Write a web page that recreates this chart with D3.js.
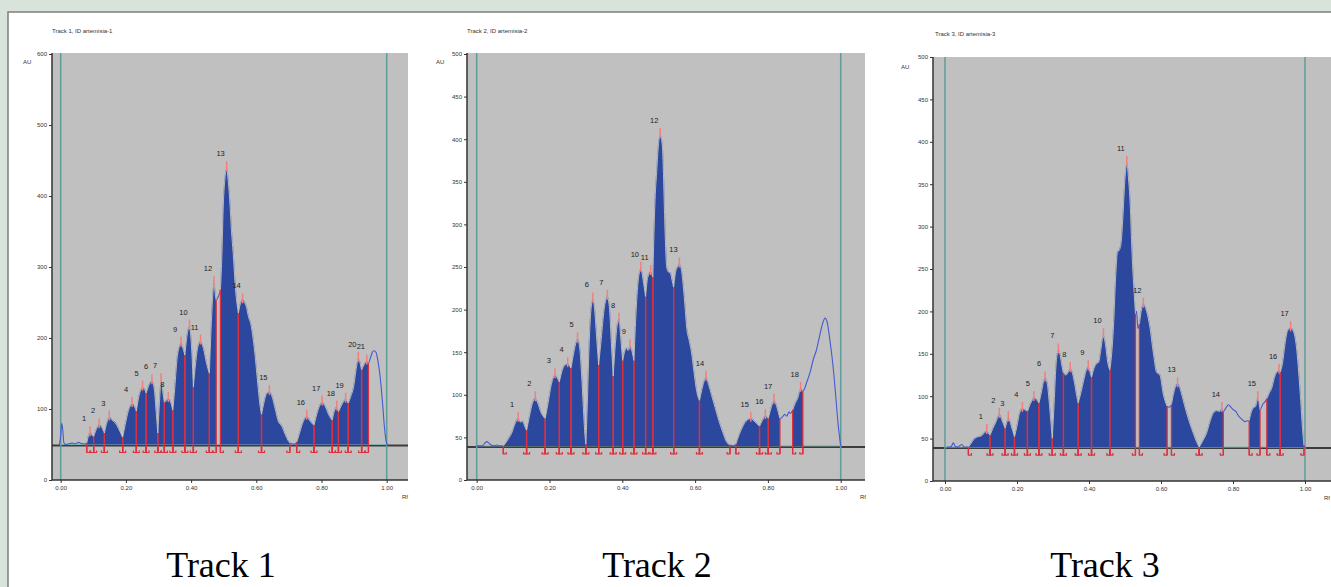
<!DOCTYPE html>
<html>
<head>
<meta charset="utf-8">
<script src="https://cdn.jsdelivr.net/npm/d3@7"></script>
<style>
  body { margin: 0; background: #d7e3db; }
  svg { display: block; }
</style>
</head>
<body>
<svg id="chart" width="1331" height="587"></svg>
<script>
// ---- data ----
const xTicks = [0, 0.2, 0.4, 0.6, 0.8, 1.0];
const yTicks1 = [0, 100, 200, 300, 400, 500, 600];
const yTicks23 = [0, 50, 100, 150, 200, 250, 300, 350, 400, 450, 500];
const trackTitles = ['Track 1, ID artemisia-1', 'Track 2, ID artemisia-2', 'Track 3, ID artemisia-3'];
const trackCaptions = ['Track 1', 'Track 2', 'Track 3'];
const baselines = [50, 40, 40];
const yMax = [600, 500, 500];

// [Rf, AU]
const track1Curve = [
  [-0.004,50],[0.000,62],[0.003,80],[0.006,72],[0.010,52],[0.015,50],[0.025,51],[0.035,52],[0.045,51],[0.055,53],[0.065,51],[0.075,51],[0.080,52],
  [0.085,62],[0.090,66],[0.096,63],[0.101,61],
  [0.108,70],[0.118,77],[0.126,74],[0.134,66],
  [0.140,78],[0.149,88],[0.158,84],[0.168,80],[0.178,72],[0.190,60],
  [0.198,78],[0.208,98],[0.219,107],[0.226,104],[0.232,97],
  [0.240,118],[0.251,130],[0.257,128],[0.262,122],
  [0.270,133],[0.280,139],[0.287,128],[0.293,95],[0.298,66],
  [0.303,110],[0.308,141],[0.313,125],[0.318,109],
  [0.324,112],[0.330,114],[0.337,110],[0.344,98],
  [0.350,130],[0.358,175],[0.369,192],[0.376,184],[0.381,176],
  [0.388,205],[0.395,216],[0.401,190],[0.407,131],
  [0.414,165],[0.421,188],[0.429,195],[0.438,185],[0.447,165],[0.456,150],
  [0.463,230],[0.470,277],[0.474,262],[0.477,253],
  [0.483,258],[0.490,268],
  [0.494,310],[0.499,390],[0.504,425],[0.509,439],[0.514,420],[0.519,390],[0.524,350],[0.529,320],[0.536,270],[0.545,235],
  [0.551,248],[0.558,253],[0.564,250],[0.570,243],[0.576,230],[0.583,220],[0.590,200],[0.597,172],[0.604,138],[0.610,110],[0.616,92],
  [0.623,108],[0.632,122],[0.640,124],[0.648,118],[0.658,100],[0.668,82],[0.678,76],[0.688,65],[0.697,56],[0.703,52],
  [0.710,51],[0.716,50.5],[0.724,53],
  [0.732,65],[0.742,80],[0.755,89],[0.765,83],[0.772,79],[0.777,77],
  [0.783,88],[0.792,102],[0.802,109],[0.812,103],[0.822,92],[0.833,84],
  [0.838,95],[0.847,102],[0.852,96],
  [0.860,104],[0.874,113],[0.882,108],
  [0.890,118],[0.898,130],[0.906,155],[0.913,171],[0.918,165],[0.923,155],
  [0.930,162],[0.939,167],[0.944,165],
  [0.950,172],[0.956,180],[0.961,182],[0.967,180],[0.973,168],[0.980,145],[0.987,110],[0.993,75],[0.998,55],[1.002,49]
];
const track1Start = [0.080,0.101,0.134,0.190,0.232,0.262,0.298,0.318,0.344,0.381,0.407,0.456,0.490,0.545,0.616,0.724,0.777,0.833,0.852,0.882,0.923];
const track1Max   = [0.090,0.118,0.149,0.219,0.251,0.280,0.308,0.330,0.369,0.395,0.429,0.470,0.509,0.558,0.640,0.755,0.802,0.847,0.874,0.913,0.939];
const track1End   = [0.101,0.134,0.190,0.232,0.262,0.298,0.318,0.344,0.381,0.407,0.456,0.477,0.545,0.616,0.703,0.777,0.833,0.852,0.882,0.923,0.944];

const track2Curve = [
  [0.000,40],[0.015,40],[0.022,43],[0.028,45],[0.034,43],[0.040,41],[0.048,40],[0.055,41],[0.062,40],[0.073,40],
  [0.085,47],[0.097,56],[0.106,67],[0.114,72],[0.120,68],[0.126,69],[0.132,63],[0.137,58],
  [0.145,75],[0.153,90],[0.161,96],[0.168,90],[0.176,80],[0.188,72],
  [0.196,90],[0.205,112],[0.215,123],[0.221,120],[0.227,115],
  [0.236,130],[0.243,135],[0.250,136],[0.259,131],
  [0.266,148],[0.272,160],[0.277,165],[0.283,155],[0.288,125],[0.293,85],[0.297,55],[0.300,42],
  [0.304,90],[0.309,160],[0.314,200],[0.319,212],[0.324,200],[0.329,170],[0.335,135],
  [0.342,165],[0.350,200],[0.359,215],[0.365,200],[0.370,160],[0.375,122],
  [0.381,160],[0.386,182],[0.391,188],[0.396,165],[0.401,140],
  [0.406,150],[0.412,155],[0.416,152],[0.421,157],[0.426,152],[0.432,140],
  [0.437,190],[0.444,235],[0.451,248],[0.457,235],[0.464,215],
  [0.470,238],[0.478,244],[0.484,238],
  [0.487,290],[0.490,329],[0.495,365],[0.499,392],[0.504,405],[0.510,392],[0.513,360],[0.515,329],[0.518,285],[0.522,250],[0.527,244],[0.532,243],[0.536,236],[0.541,226],
  [0.547,245],[0.552,250],[0.557,253],[0.563,245],[0.568,225],[0.572,205],[0.577,178],[0.583,165],[0.590,150],[0.596,130],[0.604,105],[0.612,93],
  [0.618,105],[0.624,115],[0.630,120],[0.637,112],[0.645,100],[0.655,85],[0.665,70],[0.676,56],[0.686,45],[0.696,41],
  [0.704,40],[0.712,42],
  [0.720,52],[0.730,62],[0.740,69],[0.753,72],[0.765,68],[0.777,63],
  [0.785,70],[0.793,75],[0.801,72],
  [0.809,85],[0.817,93],[0.825,85],[0.833,72],
  [0.840,74],[0.846,77],[0.852,75],[0.858,80],[0.862,78],[0.868,82],
  [0.875,90],[0.882,96],[0.890,107],[0.896,104],
  [0.907,115],[0.917,128],[0.925,142],[0.933,152],[0.940,165],[0.948,180],[0.957,190],[0.963,185],[0.970,165],[0.976,145],[0.981,125],[0.987,95],[0.993,65],[1.000,40]
];
const track2Start = [0.073,0.137,0.188,0.227,0.259,0.300,0.335,0.375,0.401,0.432,0.464,0.484,0.541,0.612,0.712,0.777,0.801,0.868];
const track2Max   = [0.114,0.161,0.215,0.250,0.277,0.319,0.359,0.391,0.421,0.451,0.478,0.504,0.557,0.630,0.753,0.793,0.817,0.890];
const track2End   = [0.137,0.188,0.227,0.259,0.300,0.335,0.375,0.401,0.432,0.464,0.484,0.541,0.612,0.696,0.777,0.801,0.833,0.896];

const track3Curve = [
  [0.005,40],[0.012,40],[0.018,41],[0.023,45],[0.028,41],[0.036,40],[0.042,42],[0.047,43],[0.053,40],[0.060,40],[0.065,40],
  [0.072,44],[0.080,49],[0.090,52],[0.100,53],[0.108,56],[0.116,59],[0.121,56],[0.125,54],
  [0.133,62],[0.142,70],[0.151,78],[0.158,72],[0.167,62],
  [0.171,68],[0.176,74],[0.184,65],[0.193,52],
  [0.200,65],[0.207,80],[0.215,85],[0.222,84],[0.229,82],
  [0.236,90],[0.242,95],[0.247,98],[0.254,96],[0.261,92],
  [0.268,105],[0.273,116],[0.278,121],[0.284,115],[0.289,95],[0.294,70],[0.298,50],
  [0.303,90],[0.309,140],[0.315,154],[0.320,148],[0.325,135],[0.329,127],
  [0.336,125],[0.342,128],[0.348,132],[0.354,127],[0.360,115],[0.366,100],[0.370,92],
  [0.378,105],[0.386,120],[0.392,130],[0.398,134],[0.403,128],[0.407,122],
  [0.414,133],[0.420,138],[0.427,140],[0.433,155],[0.440,172],[0.446,160],[0.452,140],[0.458,131],
  [0.463,150],[0.468,182],[0.474,240],[0.479,270],[0.484,272],[0.489,280],[0.494,310],[0.499,350],[0.505,375],[0.510,355],[0.514,330],[0.518,285],[0.521,255],[0.525,225],[0.529,197],
  [0.532,200],[0.536,180],[0.540,185],
  [0.545,200],[0.551,208],[0.560,200],[0.569,182],[0.579,150],[0.588,128],[0.597,125],[0.606,103],[0.617,88],
  [0.623,87],[0.629,90],
  [0.636,105],[0.641,112],[0.646,114],[0.652,110],[0.660,98],[0.670,82],[0.680,68],[0.690,56],[0.698,47],[0.706,40],
  [0.717,48],[0.727,57],[0.736,70],[0.745,80],[0.755,83],[0.762,82],[0.769,85],[0.773,82],
  [0.780,86],[0.787,90],[0.794,87],[0.801,84],[0.808,82],[0.815,77],[0.824,73],[0.833,70],[0.840,71],[0.845,71],
  [0.850,80],[0.856,86],[0.863,88],[0.869,98],[0.875,84],
  [0.882,90],[0.888,93],[0.894,97],
  [0.900,103],[0.908,110],[0.915,122],[0.921,128],[0.928,130],[0.931,128],
  [0.938,140],[0.944,160],[0.950,175],[0.955,179],[0.960,180],[0.966,178],[0.972,170],[0.977,155],[0.983,125],[0.988,95],[0.993,62],[0.997,42],[1.000,40]
];
const track3Start = [0.065,0.125,0.167,0.193,0.229,0.261,0.298,0.329,0.370,0.407,0.458,0.540,0.629,0.706,0.845,0.894,0.931];
const track3Max   = [0.116,0.151,0.176,0.215,0.247,0.278,0.315,0.348,0.398,0.440,0.505,0.551,0.646,0.769,0.869,0.928,0.960];
const track3End   = [0.125,0.167,0.193,0.229,0.261,0.298,0.329,0.370,0.407,0.458,0.529,0.617,0.706,0.773,0.875,0.931,0.997];

// ---- drawing ----
class Densitogram {

    constructor(svg, cfg) {
        this.svg = svg;
        this.cfg = cfg;
    }

    auAt(r) {
        const c = this.cfg.curve;
        const i = d3.bisector(d => d[0]).left(c, r);
        if (i <= 0) return c[0][1];
        if (i >= c.length) return c[c.length - 1][1];
        const a = c[i - 1], b = c[i];
        if (b[0] === r) return b[1];
        return a[1] + (b[1] - a[1]) * (r - a[0]) / (b[0] - a[0]);
    }

    createChart() {
        const c = this.cfg;
        const g = this.svg.append('g');

        this.x = d3.scaleLinear().domain([0, 1]).range([c.rf0, c.rf1]);
        this.y = d3.scaleLinear().domain([0, c.yMax]).range([c.bottom, c.yTop]);
        const x = this.x, y = this.y;
        const yb = y(c.base);

        g.append('rect')
            .attr('x', c.left).attr('y', c.top)
            .attr('width', c.right - c.left).attr('height', c.bottom - c.top)
            .attr('fill', '#c0c0c0');

        // baselines
        g.append('line')
            .attr('x1', c.left).attr('x2', c.right)
            .attr('y1', yb + 1).attr('y2', yb + 1)
            .attr('stroke', '#3c3c3c').attr('stroke-width', 2);
        g.append('line')
            .attr('x1', x(0)).attr('x2', x(1))
            .attr('y1', yb).attr('y2', yb)
            .attr('stroke', '#7fb3ae').attr('stroke-width', 1);

        // start / front lines
        g.selectAll('.front').data([0, 1]).join('line')
            .attr('x1', d => x(d)).attr('x2', d => x(d))
            .attr('y1', c.top).attr('y2', c.bottom)
            .attr('stroke', '#5e9d9b').attr('stroke-width', 1.5);

        const line = d3.line().x(d => x(d[0])).y(d => y(d[1])).curve(d3.curveMonotoneX);
        const area = d3.area().x(d => x(d[0])).y0(yb).y1(d => y(d[1])).curve(d3.curveMonotoneX);

        g.append('path')
            .attr('d', line(c.curve))
            .attr('fill', 'none').attr('stroke', '#4758d2').attr('stroke-width', 1.1);

        const segs = c.start.map((s, i) => {
            const e = c.end[i];
            const pts = c.curve.filter(p => p[0] > s + 1e-6 && p[0] < e - 1e-6);
            return [[s, this.auAt(s)], ...pts, [e, this.auAt(e)]];
        });

        g.selectAll('.peak').data(segs).join('path')
            .attr('d', area)
            .attr('fill', '#2c479e');
        g.selectAll('.edge').data(segs).join('path')
            .attr('d', line)
            .attr('fill', 'none').attr('stroke', '#d9d6b6').attr('stroke-width', 0.8);

        // integration boundaries
        const bounds = c.start.map(s => ({r: s, side: 1})).concat(c.end.map(e => ({r: e, side: -1})));
        g.selectAll('.bound').data(bounds).join('line')
            .attr('x1', d => x(d.r)).attr('x2', d => x(d.r))
            .attr('y1', yb + 8).attr('y2', d => y(this.auAt(d.r)))
            .attr('stroke', '#dd2f3d').attr('stroke-width', 1.3);
        g.selectAll('.bracket').data(bounds).join('path')
            .attr('d', d => {
                const bx = x(d.r);
                return `M${bx},${yb + 2}V${yb + 8}H${bx + 3 * d.side}V${yb + 6}`;
            })
            .attr('fill', 'none').attr('stroke', '#e0303c').attr('stroke-width', 1.2);

        // peak maxima
        const peaks = c.max.map((m, i) => ({r: m, au: this.auAt(m), n: i + 1}));
        g.selectAll('.tick-max').data(peaks).join('line')
            .attr('x1', d => x(d.r)).attr('x2', d => x(d.r))
            .attr('y1', d => y(d.au) + 3).attr('y2', d => y(d.au) - 7)
            .attr('stroke', '#f07f7f').attr('stroke-width', 1.5);
        g.selectAll('.plabel').data(peaks).join('text')
            .attr('x', d => x(d.r) - 6).attr('y', d => y(d.au) - 12)
            .attr('text-anchor', 'middle')
            .attr('font-family', 'Liberation Sans, Arial, sans-serif')
            .attr('font-size', 7.5).attr('fill', '#222')
            .text(d => d.n);

        // axes
        const yAxis = d3.axisLeft(y).tickValues(c.yTicks).tickSize(3).tickPadding(2);
        const yg = g.append('g').attr('transform', `translate(${c.left},0)`).call(yAxis);
        const xAxis = d3.axisBottom(x).tickValues(xTicks).tickFormat(d3.format('.2f')).tickSize(3).tickPadding(3);
        const xg = g.append('g').attr('transform', `translate(0,${c.bottom})`).call(xAxis);
        [yg, xg].forEach(a => {
            a.select('.domain').remove();
            a.selectAll('text').attr('font-size', 6).attr('fill', '#333')
                .attr('font-family', 'Liberation Sans, Arial, sans-serif');
            a.selectAll('line').attr('stroke', '#333');
        });
        g.append('line')
            .attr('x1', c.left).attr('x2', c.left).attr('y1', c.top).attr('y2', c.bottom)
            .attr('stroke', '#333').attr('stroke-width', 1.5);
        g.append('line')
            .attr('x1', c.left).attr('x2', c.right).attr('y1', c.bottom).attr('y2', c.bottom)
            .attr('stroke', '#333').attr('stroke-width', 1.5);

        const small = sel => sel.attr('font-family', 'Liberation Sans, Arial, sans-serif')
            .attr('font-size', 6).attr('fill', '#333');
        g.append('text').attr('x', c.titleX).attr('y', c.titleY).text(c.title).call(small);
        g.append('text').attr('x', c.auX).attr('y', c.auY).text('AU').call(small);
        g.append('text').attr('x', c.rfX).attr('y', c.bottom + 19).text('Rf').call(small);

        this.svg.append('text')
            .attr('x', c.captionX).attr('y', 577)
            .attr('text-anchor', 'middle')
            .attr('font-family', 'Liberation Serif, Times New Roman, serif')
            .attr('font-size', 36).attr('fill', '#000')
            .text(c.caption);
    }
}

const svg = d3.select('#chart');
svg.append('rect')
    .attr('x', 8).attr('y', 12).attr('width', 1330).attr('height', 590)
    .attr('fill', '#fff').attr('stroke', '#7d7d7d').attr('stroke-width', 1.5);

const panels = [
    {curve: track1Curve, start: track1Start, max: track1Max, end: track1End, yTicks: yTicks1,
     left: 52, right: 408, top: 53, bottom: 480, yTop: 54, rf0: 60.7, rf1: 386.7,
     titleX: 52, titleY: 33, auX: 23, auY: 64, rfX: 402, captionX: 221},
    {curve: track2Curve, start: track2Start, max: track2Max, end: track2End, yTicks: yTicks23,
     left: 467, right: 865, top: 53, bottom: 480, yTop: 54, rf0: 476.7, rf1: 840.7,
     titleX: 467, titleY: 33, auX: 436, auY: 64, rfX: 860, captionX: 657},
    {curve: track3Curve, start: track3Start, max: track3Max, end: track3End, yTicks: yTicks23,
     left: 933, right: 1335, top: 57, bottom: 481, yTop: 57, rf0: 945, rf1: 1305,
     titleX: 935, titleY: 36, auX: 901, auY: 69, rfX: 1324, captionX: 1105}
];

panels.forEach((p, i) => {
    p.base = baselines[i];
    p.yMax = yMax[i];
    p.title = trackTitles[i];
    p.caption = trackCaptions[i];
    new Densitogram(svg, p).createChart();
});
</script>
</body>
</html>
